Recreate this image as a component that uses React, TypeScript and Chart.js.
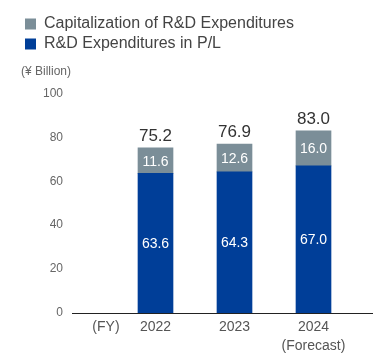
import React, { useEffect, useRef } from "react";
import { Chart, registerables } from "chart.js";

Chart.register(...registerables);

const categories = ["2022", "2023", "2024"];
const categorySubLabels = ["", "", "(Forecast)"];
const plValues = [63.6, 64.3, 67.0];
const capValues = [11.6, 12.6, 16.0];
const yTicks = [0, 20, 40, 60, 80, 100];
const fyLabel = "(FY)";
const unitLabel = "(¥ Billion)";
const plName = "R&D Expenditures in P/L";
const capName = "Capitalization of R&D Expenditures";

const FONT = "'Liberation Sans', Arial, Helvetica, sans-serif";
const BLUE = "#003e98";
const GRAY = "#7b8e98";

const valueLabels = {
  id: "valueLabels",
  afterDatasetsDraw(chart: any) {
    const ctx = chart.ctx;
    ctx.save();
    ctx.textAlign = "center";
    ctx.textBaseline = "alphabetic";
    chart.data.datasets.forEach((ds: any, di: number) => {
      const meta = chart.getDatasetMeta(di);
      meta.data.forEach((bar: any, i: number) => {
        const v = ds.data[i].y;
        const cy = (bar.y + bar.base) / 2;
        ctx.font = `14px ${FONT}`;
        ctx.fillStyle = "#ffffff";
        ctx.fillText(v.toFixed(1), bar.x, cy + 14 * 0.36);
      });
    });
    const topMeta = chart.getDatasetMeta(chart.data.datasets.length - 1);
    topMeta.data.forEach((bar: any, i: number) => {
      const total = plValues[i] + capValues[i];
      ctx.font = `17px ${FONT}`;
      ctx.fillStyle = "#333333";
      ctx.fillText(total.toFixed(1), bar.x, bar.y - 7);
    });
    ctx.restore();
  },
};

export default function App() {
  const ref = useRef<HTMLCanvasElement | null>(null);

  useEffect(() => {
    if (!ref.current) return;
    const fyOffset = 0.627;
    const chart = new Chart(ref.current, {
      type: "bar",
      data: {
        datasets: [
          {
            label: plName,
            data: plValues.map((v, i) => ({ x: i + 1, y: v })),
            backgroundColor: BLUE,
            borderWidth: 0,
            barThickness: 35,
          },
          {
            label: capName,
            data: capValues.map((v, i) => ({ x: i + 1, y: v })),
            backgroundColor: GRAY,
            borderWidth: 0,
            barThickness: 35,
          },
        ],
      },
      options: {
        responsive: false,
        animation: false,
        layout: { padding: { top: 12, left: 21, right: 0, bottom: 0 } },
        plugins: {
          legend: {
            display: true,
            position: "top",
            align: "start",
            reverse: true,
            labels: {
              boxWidth: 11,
              boxHeight: 11,
              padding: 4,
              color: "#444444",
              font: { family: FONT, size: 16 },
            },
          },
          title: {
            display: true,
            text: unitLabel,
            align: "start",
            position: "top",
            weight: 500,
            color: "#666666",
            font: { family: FONT, size: 12, weight: "normal" },
            padding: { top: 2, bottom: 15 },
          },
          tooltip: { enabled: false },
        },
        scales: {
          x: {
            type: "linear",
            stacked: true,
            offset: false,
            min: 1 - 83.5 / 79,
            max: 1 - 83.5 / 79 + 301 / 79,
            grid: { display: false, drawTicks: false },
            border: { display: true, color: "#222222", width: 1 },
            afterBuildTicks: (scale: any) => {
              scale.ticks = [{ value: 1 - fyOffset }].concat(
                categories.map((_, i) => ({ value: i + 1 }))
              );
            },
            afterFit: (scale: any) => {
              scale.height = 43;
            },
            ticks: {
              autoSkip: false,
              maxRotation: 0,
              minRotation: 0,
              padding: 5,
              color: "#555555",
              font: { family: FONT, size: 14, lineHeight: 1.35 },
              callback: (_v: any, index: number) => {
                if (index === 0) return fyLabel;
                const sub = categorySubLabels[index - 1];
                return sub ? [categories[index - 1], sub] : categories[index - 1];
              },
            },
          },
          y: {
            stacked: true,
            min: 0,
            max: 100,
            grid: { display: false, drawTicks: false },
            border: { display: false },
            afterBuildTicks: (scale: any) => {
              scale.ticks = yTicks.map((v) => ({ value: v }));
            },
            afterFit: (scale: any) => {
              scale.width = 51;
            },
            ticks: {
              padding: 9,
              color: "#666666",
              font: { family: FONT, size: 12 },
            },
          },
        },
      },
      plugins: [valueLabels],
    } as any);
    return () => chart.destroy();
  }, []);

  return (
    <div style={{ position: "absolute", left: 0, top: 0, width: 373, height: 356, background: "#fff" }}>
      <canvas ref={ref} width={373} height={356} style={{ display: "block" }} />
    </div>
  );
}
